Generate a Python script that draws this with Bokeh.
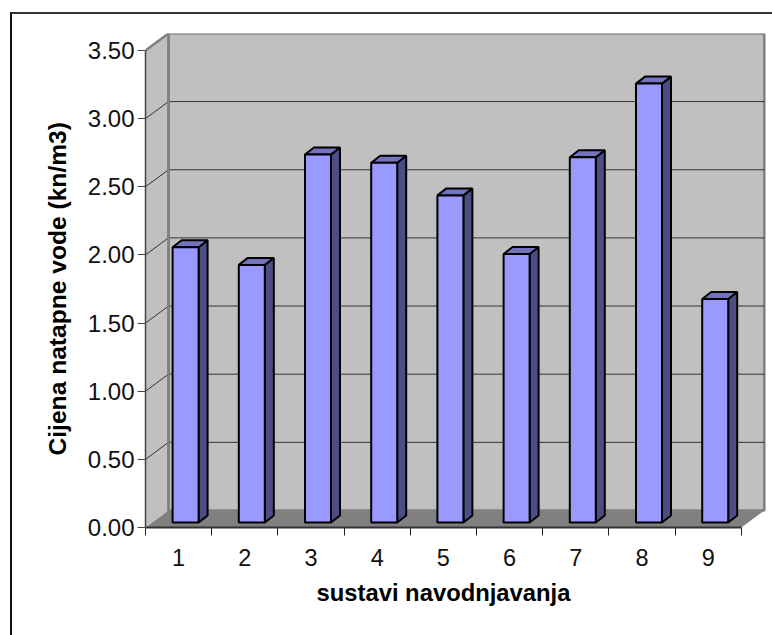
from bokeh.plotting import figure
from bokeh.models import FixedTicker, Range1d, Title, InlineStyleSheet
from bokeh.embed import file_html
from bokeh.resources import INLINE

categories = [1, 2, 3, 4, 5, 6, 7, 8, 9]
values = [2.02, 1.89, 2.70, 2.64, 2.40, 1.97, 2.68, 3.22, 1.64]
y_ticks = [0.0, 0.5, 1.0, 1.5, 2.0, 2.5, 3.0, 3.5]
x_label = "sustavi navodnjavanja"
y_label = "Cijena natapne vode (kn/m3)"

# pixel scale of the plot (px per data unit)
PX = 66.2
PY = 136.3
W, H = 772, 635
LEFT, TOP, BOTTOM = 145, 33, 108
x_start = 0.5
x_end = x_start + (W - LEFT - 6) / PX
y_end = (H - TOP - BOTTOM) / PY

p = figure(width=W, height=H, output_backend="svg", toolbar_location=None,
           x_range=Range1d(x_start, x_end), y_range=Range1d(0, y_end),
           min_border_left=LEFT, min_border_right=6, min_border_top=TOP,
           min_border_bottom=BOTTOM, outline_line_color=None,
           background_fill_color=None, border_fill_color="white")
p.grid.visible = False
p.stylesheets = [InlineStyleSheet(css=""":host::after {
  content: ""; position: absolute; left: 10px; top: 12px; width: 800px; height: 700px;
  border-left: 2px solid #111; border-top: 2px solid #333; pointer-events: none; z-index: 10;
}
:host { overflow: hidden; }""")]

FONT = "Liberation Sans"
xa, ya = p.xaxis[0], p.yaxis[0]
ya.ticker = FixedTicker(ticks=y_ticks)
ya.bounds = (0, 3.5)
ya.major_label_overrides = {v: f"{v:.2f}" for v in y_ticks}
ya.major_tick_out, ya.major_tick_in = 8, 0
ya.minor_tick_line_color = None
ya.axis_line_color = "#444444"
ya.major_tick_line_color = "#444444"
ya.axis_line_width = 1.5
ya.major_label_text_font = FONT
ya.major_label_text_font_size = "24px"
ya.major_label_text_color = "#111111"
ya.major_label_standoff = 3

xa.ticker = FixedTicker(ticks=categories, minor_ticks=[c - 0.5 for c in categories] + [9.5])
xa.bounds = (0.5, 9.5)
xa.major_tick_line_color = None
xa.minor_tick_out, xa.minor_tick_in = 8, 0
xa.minor_tick_line_color = "#222222"
xa.axis_line_color = "#333333"
xa.axis_line_width = 2
xa.major_label_text_font = FONT
xa.major_label_text_font_size = "23.5px"
xa.major_label_text_color = "#111111"
xa.major_label_standoff = 13

# axis titles sit off the frame's centre, so they are placed as side titles with an offset
p.add_layout(Title(text=x_label, align="left", offset=171, standoff=17,
                   text_font=FONT, text_font_style="bold", text_font_size="23.8px",
                   text_color="black"), "below")
p.add_layout(Title(text=y_label, align="left", offset=72, standoff=27,
                   text_font=FONT, text_font_style="bold", text_font_size="24.6px",
                   text_color="black"), "left")

# 3-D depth of the plot box, in data units
dx, dy = 23 / PX, 17 / PY
x0, x1 = 0.5, 9.5
top = 3.5

# walls and floor
p.patch([x0, x0 + dx, x0 + dx, x0], [top, top + dy, dy, 0],
        fill_color="#C0C0C0", line_color=None)
p.quad(left=[x0 + dx], right=[x1 + dx], bottom=[dy], top=[top + dy],
       fill_color="#C0C0C0", line_color="#808080", line_width=2.5)
p.line([x0, x0 + dx], [top, top + dy], line_color="#808080", line_width=2.5)

# gridlines on the side wall and back wall
for v in y_ticks[1:-1]:
    p.line([x0, x0 + dx, x1 + dx], [v, v + dy, v + dy], line_color="#333333", line_width=1)
p.line([x0 + dx, x0 + dx], [dy, top + dy], line_color="#808080", line_width=2.5)

p.patch([x0, x0 + dx, x1 + dx, x1], [0, dy, dy, 0], fill_color="#808080", line_color=None)

# bars
bar_w = 26 / PX
off_x, off_y = 7 / PX, 5 / PY      # front face inset from the axis plane
sx, sy = 9 / PX, 7 / PY            # depth of one bar
side_xs, side_ys, top_xs, top_ys = [], [], [], []
lefts, rights, bottoms = [], [], []
for c, v in zip(categories, values):
    l = c - bar_w / 2 + off_x
    r = l + bar_w
    b = off_y
    t = b + v
    lefts.append(l); rights.append(r); bottoms.append(b)
    side_xs.append([r, r + sx, r + sx, r])
    side_ys.append([b, b + sy, t + sy, t])
    top_xs.append([l, l + sx, r + sx, r])
    top_ys.append([t, t + sy, t + sy, t])

tops = [off_y + v for v in values]
p.patches(side_xs, side_ys, fill_color="#4D4D85", line_color="black", line_width=2)
p.patches(top_xs, top_ys, fill_color="#7373BF", line_color="black", line_width=2)
p.quad(left=lefts, right=rights, bottom=bottoms, top=tops,
       fill_color="#9999FF", line_color="black", line_width=2)

open("out.html", "w").write(file_html(p, INLINE))
